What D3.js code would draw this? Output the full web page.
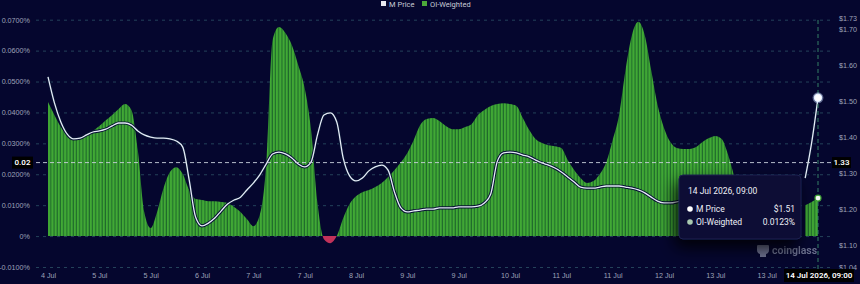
<!DOCTYPE html>
<html>
<head>
<meta charset="utf-8">
<style>
body { margin: 0; background: #05062e; }
#chart { display: block; font-family: Roboto, "DejaVu Sans", sans-serif; }
.axis text { fill: #9ea3b8; font-size: 7.2px; }
.grid line { stroke: #24425a; stroke-dasharray: 3 4; }
</style>
</head>
<body>
<svg id="chart" width="860" height="284"></svg>
<script src="https://cdn.jsdelivr.net/npm/d3@7"></script>
<script>

// OI-weighted funding rate (%), one value every 2 hours from 4 Jul 09:00
var oiWeighted = [
	0.0434, 0.0392, 0.0353, 0.0327, 0.0314, 0.0317, 0.0327, 0.0340, 0.0356, 0.0375,
	0.0392, 0.0411, 0.0427, 0.0408, 0.0278, 0.0078, 0.0026, 0.0078, 0.0155, 0.0207,
	0.0223, 0.0201, 0.0149, 0.0120, 0.0117, 0.0113, 0.0113, 0.0110, 0.0107, 0.0094,
	0.0078, 0.0055, 0.0032, 0.0068, 0.0230, 0.0634, 0.0676, 0.0657, 0.0618, 0.0553,
	0.0479, 0.0343, 0.0107, -0.0010, -0.0023, 0.0000, 0.0058, 0.0104, 0.0129, 0.0142,
	0.0149, 0.0159, 0.0172, 0.0191, 0.0214, 0.0239, 0.0269, 0.0311, 0.0359, 0.0379,
	0.0382, 0.0372, 0.0356, 0.0346, 0.0346, 0.0353, 0.0362, 0.0392, 0.0408, 0.0421,
	0.0427, 0.0430, 0.0427, 0.0421, 0.0382, 0.0343, 0.0314, 0.0301, 0.0294, 0.0291,
	0.0285, 0.0246, 0.0214, 0.0188, 0.0172, 0.0178, 0.0201, 0.0239, 0.0311, 0.0392,
	0.0537, 0.0650, 0.0693, 0.0650, 0.0537, 0.0424, 0.0350, 0.0304, 0.0285, 0.0282,
	0.0282, 0.0288, 0.0304, 0.0317, 0.0324, 0.0314, 0.0262, 0.0188, null, null,
	null, null, null, null, null, null, null, null, 0.0100, 0.0110,
	0.0123
];

// M Price ($), same timestamps
var mPrice = [
	1.568, 1.496, 1.443, 1.409, 1.396, 1.398, 1.407, 1.415, 1.418, 1.423,
	1.432, 1.440, 1.440, 1.434, 1.418, 1.407, 1.401, 1.398, 1.398, 1.396,
	1.390, 1.373, 1.282, 1.179, 1.154, 1.162, 1.176, 1.196, 1.215, 1.226,
	1.234, 1.254, 1.273, 1.296, 1.326, 1.354, 1.359, 1.354, 1.343, 1.326,
	1.318, 1.332, 1.407, 1.462, 1.468, 1.443, 1.343, 1.293, 1.279, 1.287,
	1.307, 1.318, 1.323, 1.309, 1.248, 1.204, 1.193, 1.196, 1.198, 1.201,
	1.201, 1.204, 1.204, 1.204, 1.207, 1.207, 1.207, 1.209, 1.218, 1.243,
	1.332, 1.357, 1.359, 1.357, 1.351, 1.346, 1.337, 1.329, 1.323, 1.315,
	1.304, 1.290, 1.276, 1.262, 1.259, 1.259, 1.262, 1.265, 1.265, 1.265,
	1.262, 1.259, 1.254, 1.246, 1.234, 1.223, 1.218, 1.218, 1.221, 1.226,
	1.234, 1.243, 1.248, 1.251, 1.254, 1.254, 1.254, 1.254, null, null,
	null, null, null, null, null, null, null, null, 1.287, 1.384,
	1.510
];

var leftTicks = [-0.01, 0, 0.01, 0.02, 0.03, 0.04, 0.05, 0.06, 0.07];
var rightTicks = [1.04, 1.10, 1.20, 1.30, 1.40, 1.50, 1.60, 1.70, 1.73];
var xTickDates = ["2026-07-04T09:00", "2026-07-05T01:00", "2026-07-05T17:00", "2026-07-06T09:00",
	"2026-07-07T01:00", "2026-07-07T17:00", "2026-07-08T09:00", "2026-07-09T01:00",
	"2026-07-09T17:00", "2026-07-10T09:00", "2026-07-11T01:00", "2026-07-11T17:00",
	"2026-07-12T09:00", "2026-07-13T01:00", "2026-07-13T17:00"];
var crossPrice = 1.33;

var parse = d3.timeParse("%Y-%m-%dT%H:%M");
var start = parse("2026-07-04T09:00"),
	end = parse("2026-07-14T09:00");

var data = oiWeighted.map(function(v, i) {
	return {t: d3.timeHour.offset(start, i * 2), oi: v, p: mPrice[i]};
});

var svg = d3.select("#chart");

var x = d3.scaleTime().domain([start, end]).range([48, 818]);
var yOI = d3.scaleLinear().domain([-0.01, 0.07]).range([267, 19.7]);
var yP = d3.scaleLinear().domain([1.04, 1.73]).range([267, 18.6]);

var defs = svg.append("defs");
var pat = defs.append("pattern")
	.attr("id", "stripes")
	.attr("patternUnits", "userSpaceOnUse")
	.attr("width", 3.21).attr("height", 10);
pat.append("rect").attr("width", 3.21).attr("height", 10).attr("fill", "#1f6a2b");
pat.append("rect").attr("width", 2.1).attr("height", 10).attr("fill", "#41a935");

defs.append("clipPath").attr("id", "above")
	.append("rect").attr("x", 0).attr("y", 0).attr("width", 860).attr("height", yOI(0));
defs.append("clipPath").attr("id", "below")
	.append("rect").attr("x", 0).attr("y", yOI(0)).attr("width", 860).attr("height", 40);

var shadow = defs.append("filter").attr("id", "shadow")
	.attr("x", "-40%").attr("y", "-40%").attr("width", "180%").attr("height", "180%");
shadow.append("feDropShadow")
	.attr("dx", -4).attr("dy", 8).attr("stdDeviation", 8)
	.attr("flood-color", "#000").attr("flood-opacity", 0.85);

// grid
svg.append("g")
	.attr("class", "grid")
	.attr("transform", "translate(36,0)")
	.call(d3.axisRight(yOI).tickValues(leftTicks).tickSize(794).tickFormat(""))
	.call(function(g) { g.select(".domain").remove(); });

// left axis
svg.append("g")
	.attr("class", "axis")
	.attr("transform", "translate(33,0)")
	.call(d3.axisLeft(yOI).tickValues(leftTicks).tickSize(0)
		.tickFormat(function(d) { return d === 0 ? "0%" : d.toFixed(4) + "%"; }))
	.call(function(g) { g.select(".domain").remove(); });

// right axis
svg.append("g")
	.attr("class", "axis")
	.attr("transform", "translate(836,0)")
	.call(d3.axisRight(yP).tickValues(rightTicks).tickSize(0)
		.tickFormat(function(d) { return "$" + d.toFixed(2); }))
	.call(function(g) { g.select(".domain").remove(); });

// bottom axis
svg.append("g")
	.attr("class", "axis")
	.attr("transform", "translate(0,270)")
	.call(d3.axisBottom(x).tickValues(xTickDates.map(parse)).tickSize(0)
		.tickFormat(d3.timeFormat("%-d %b")))
	.call(function(g) { g.select(".domain").remove(); })
	.selectAll("text").attr("fill", "#c4c8d6");

// OI-weighted area
var area = d3.area()
	.defined(function(d) { return d.oi != null; })
	.x(function(d) { return x(d.t); })
	.y0(yOI(0))
	.y1(function(d) { return yOI(d.oi); })
	.curve(d3.curveMonotoneX);

svg.append("path").datum(data)
	.attr("clip-path", "url(#above)")
	.attr("fill", "url(#stripes)")
	.attr("d", area);

svg.append("path").datum(data)
	.attr("clip-path", "url(#below)")
	.attr("fill", "#c2325a")
	.attr("d", area);

// price line
var line = d3.line()
	.defined(function(d) { return d.p != null; })
	.x(function(d) { return x(d.t); })
	.y(function(d) { return yP(d.p); })
	.curve(d3.curveMonotoneX);

svg.append("path").datum(data)
	.attr("fill", "none").attr("stroke", "#071033").attr("stroke-width", 3.2)
	.attr("d", line);
svg.append("path").datum(data)
	.attr("fill", "none").attr("stroke", "#e4ecf6").attr("stroke-width", 1.3)
	.attr("d", line);

// crosshair
var cy = yP(crossPrice);
var last = data[data.length - 1];
var cx = x(last.t);

svg.append("line")
	.attr("x1", 36).attr("x2", 832).attr("y1", cy).attr("y2", cy)
	.attr("stroke", "#c9d0dc").attr("stroke-dasharray", "4 3").attr("stroke-width", 0.9);
svg.append("line")
	.attr("x1", cx).attr("x2", cx).attr("y1", 20).attr("y2", 270)
	.attr("stroke", "#3b8c6c").attr("stroke-dasharray", "4 3").attr("stroke-width", 0.9);

// watermark
var wm = svg.append("g").attr("opacity", 0.75);
wm.append("path")
	.attr("d", "M758,245 h10 q1,0 1,1 v4 q0,3 -3,4 v3 h-6 v-3 q-3,-1 -3,-4 v-4 q0,-1 1,-1 z")
	.attr("fill", "#8d93ad");
wm.append("text")
	.attr("x", 772).attr("y", 253.5)
	.attr("font-size", 10.5).attr("font-weight", 600).attr("fill", "#8d93ad")
	.text("coinglass");

// tooltip
var tip = svg.append("g").attr("transform", "translate(679,175)");
tip.append("rect")
	.attr("width", 122).attr("height", 64).attr("rx", 4)
	.attr("fill", "#0a0c36").attr("stroke", "#1d2050")
	.attr("filter", "url(#shadow)");
tip.append("text")
	.attr("x", 9).attr("y", 19)
	.attr("font-size", 8.5).attr("fill", "#eef0f6")
	.text(d3.timeFormat("%-d %b %Y, %H:%M")(last.t));

var rows = [
	{name: "M Price", val: "$" + last.p.toFixed(2), col: "#ffffff"},
	{name: "OI-Weighted", val: last.oi.toFixed(4) + "%", col: "#a9c9b0"}
];
rows.forEach(function(r, i) {
	var ry = 37 + i * 13;
	tip.append("circle").attr("cx", 11).attr("cy", ry - 3).attr("r", 2.8).attr("fill", r.col);
	tip.append("text").attr("x", 17).attr("y", ry)
		.attr("font-size", 8.5).attr("fill", "#eef0f6").text(r.name);
	tip.append("text").attr("x", 116).attr("y", ry)
		.attr("font-size", 8.5).attr("fill", "#eef0f6").attr("text-anchor", "end").text(r.val);
});

// points at the hovered time
svg.append("circle")
	.attr("cx", cx).attr("cy", yP(last.p)).attr("r", 4.2)
	.attr("fill", "#ffffff").attr("stroke", "rgba(200,220,255,0.45)").attr("stroke-width", 2.5);
svg.append("circle")
	.attr("cx", cx).attr("cy", yOI(last.oi)).attr("r", 3)
	.attr("fill", "#f2f6f2").attr("stroke", "#3fa535").attr("stroke-width", 1.2);

// crosshair labels
function label(xx, yy, w, h, txt) {
	svg.append("rect").attr("x", xx).attr("y", yy).attr("width", w).attr("height", h)
		.attr("fill", "#000000");
	svg.append("text").attr("x", xx + w / 2).attr("y", yy + h / 2 + 2.8)
		.attr("text-anchor", "middle").attr("font-size", 8).attr("font-weight", 600)
		.attr("fill", "#ffffff").text(txt);
}
label(12, cy - 6, 21, 12, yOI.invert(cy).toFixed(2));
label(832, cy - 5.5, 19, 11, crossPrice.toFixed(2));
label(784, 269, 70, 13, d3.timeFormat("%-d %b %Y, %H:%M")(last.t));

// legend
var legend = svg.append("g").attr("font-size", 7.5).attr("fill", "#c8ccd8");
legend.append("rect").attr("x", 381).attr("y", 1).attr("width", 5).attr("height", 5).attr("fill", "#e8e8ee");
legend.append("text").attr("x", 389).attr("y", 6.5).text("M Price");
legend.append("rect").attr("x", 422).attr("y", 1).attr("width", 5).attr("height", 5).attr("fill", "#4caa3a");
legend.append("text").attr("x", 430).attr("y", 6.5).text("OI-Weighted");

</script>
</body>
</html>
